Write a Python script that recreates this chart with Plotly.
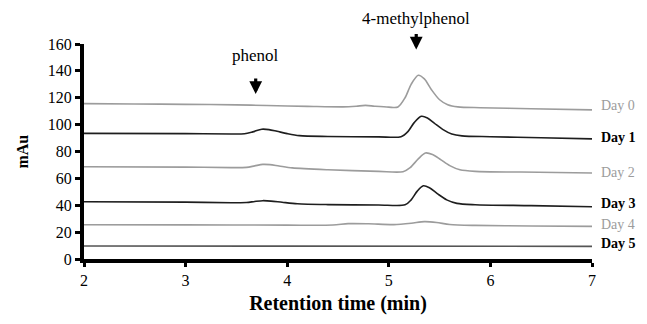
import plotly.graph_objects as go

# ---- data ----
day_names = ["Day 0", "Day 1", "Day 2", "Day 3", "Day 4", "Day 5"]

day0_t = [2.0, 2.5, 3.0, 3.5, 3.8, 4.2, 4.55, 4.68, 4.77, 4.86, 5.0, 5.09, 5.16, 5.22, 5.29, 5.35, 5.42, 5.5, 5.58, 5.68, 5.9, 6.4, 7.0]
day0_v = [115.6, 115.4, 115.1, 114.7, 114.2, 113.6, 113.2, 113.7, 114.3, 113.7, 113.0, 113.1, 120.0, 130.0, 136.7, 134.0, 126.0, 118.5, 114.8, 113.2, 112.6, 111.8, 111.0]

day1_t = [2.0, 3.0, 3.45, 3.58, 3.66, 3.75, 3.82, 3.9, 4.0, 4.12, 4.4, 4.9, 5.12, 5.19, 5.25, 5.32, 5.38, 5.45, 5.53, 5.62, 5.72, 6.0, 6.5, 7.0]
day1_v = [93.5, 93.3, 93.0, 93.2, 94.6, 96.6, 96.3, 95.0, 93.3, 91.8, 91.2, 90.9, 91.0, 95.0, 101.5, 106.2, 105.0, 101.0, 96.5, 93.0, 91.6, 91.0, 90.2, 89.4]

day2_t = [2.0, 3.0, 3.45, 3.6, 3.68, 3.76, 3.83, 3.92, 4.05, 4.4, 4.9, 5.14, 5.21, 5.29, 5.36, 5.43, 5.51, 5.6, 5.7, 5.85, 6.3, 7.0]
day2_v = [68.6, 68.4, 68.0, 68.2, 69.3, 70.4, 70.2, 69.2, 67.8, 66.4, 65.2, 65.0, 68.0, 74.5, 78.9, 77.8, 74.0, 69.5, 66.4, 65.2, 64.7, 64.0]

day3_t = [2.0, 3.0, 3.45, 3.6, 3.68, 3.76, 3.84, 3.95, 4.1, 4.4, 4.9, 5.16, 5.22, 5.28, 5.34, 5.4, 5.48, 5.57, 5.67, 5.85, 6.4, 7.0]
day3_v = [42.6, 42.3, 41.9, 42.0, 42.8, 43.4, 43.1, 42.2, 41.1, 40.5, 40.2, 40.3, 44.0, 50.5, 54.5, 53.0, 48.5, 44.0, 41.4, 40.4, 39.7, 38.9]

day4_t = [2.0, 3.0, 4.0, 4.45, 4.6, 4.8, 5.05, 5.22, 5.35, 5.47, 5.6, 5.85, 6.4, 7.0]
day4_v = [25.5, 25.4, 25.2, 25.3, 26.3, 26.2, 25.6, 26.6, 27.8, 27.2, 25.7, 25.0, 24.6, 24.3]

day5_t = [2.0, 4.0, 7.0]
day5_v = [9.7, 9.6, 9.4]

series_t = [day0_t, day1_t, day2_t, day3_t, day4_t, day5_t]
series_v = [day0_v, day1_v, day2_v, day3_v, day4_v, day5_v]
label_y = [114.0, 90.7, 64.1, 41.4, 25.4, 11.8]

peak_names = ["phenol", "4-methylphenol"]
peak_t = [3.69, 5.27]
peak_arrow_tip = [122.7, 155.9]
peak_text_y = [0.945, 1.12]   # paper fraction

x_ticks = [2, 3, 4, 5, 6, 7]
y_ticks = [0, 20, 40, 60, 80, 100, 120, 140, 160]

# ---- styles ----
GRAY = "#9c9c9c"
BLACK = "#1e1e1e"
line_colors = [GRAY, BLACK, GRAY, BLACK, GRAY, "#555555"]
label_colors = ["#9c9c9c", "#000000", "#9c9c9c", "#000000", "#9c9c9c", "#000000"]
label_bold = [False, True, False, True, False, True]
FONT = "'Liberation Serif', 'Times New Roman', serif"

fig = go.Figure()
for name, t, v, c in zip(day_names, series_t, series_v, line_colors):
    fig.add_trace(go.Scatter(x=t, y=v, mode="lines", name=name,
                             line=dict(color=c, width=1.6, shape="spline", smoothing=0.8),
                             showlegend=False, hoverinfo="skip"))

ann = []
for name, y, c, b in zip(day_names, label_y, label_colors, label_bold):
    ann.append(dict(x=7.0, y=y, xref="x", yref="y", text=(f"<b>{name}</b>" if b else name),
                    showarrow=False, xanchor="left", yanchor="middle", xshift=7,
                    font=dict(family=FONT, size=14, color=c)))
for name, t, tip, ty in zip(peak_names, peak_t, peak_arrow_tip, peak_text_y):
    ann.append(dict(x=t, y=tip, xref="x", yref="y", text="", showarrow=True,
                    ax=0, ay=-17, arrowhead=2, arrowsize=0.8, arrowwidth=3.2, arrowcolor="#000"))
    ann.append(dict(x=t, y=ty, xref="x", yref="paper", text=name, showarrow=False,
                    xanchor="center", yanchor="middle",
                    font=dict(family=FONT, size=17, color="#000")))
ann.append(dict(x=-0.122, y=0.5, xref="paper", yref="paper", text="<b>mAu</b>", textangle=-90,
                showarrow=False, xanchor="center", yanchor="middle",
                font=dict(family=FONT, size=16, color="#000")))

fig.update_layout(
    width=647, height=324,
    margin=dict(l=84, r=55, t=44, b=63),
    paper_bgcolor="white", plot_bgcolor="white",
    font=dict(family=FONT, size=16, color="#000"),
    annotations=ann,
    xaxis=dict(range=[2, 7], tickvals=x_ticks, ticktext=[str(v) for v in x_ticks],
               showgrid=False, zeroline=False, showline=True, linewidth=4, linecolor="#000",
               ticks="outside", ticklen=4, tickwidth=3, tickcolor="#000",
               tickfont=dict(family=FONT, size=16, color="#000"),
               title=dict(text="<b>Retention time (min)</b>", standoff=9,
                          font=dict(family=FONT, size=20, color="#000"))),
    yaxis=dict(range=[0, 160], tickvals=y_ticks, ticktext=[str(v) for v in y_ticks],
               showgrid=False, zeroline=False, showline=True, linewidth=4, linecolor="#000",
               ticks="outside", ticklen=5, tickwidth=3, tickcolor="#000",
               tickfont=dict(family=FONT, size=16, color="#000")),
)

fig.write_html("out.html")
